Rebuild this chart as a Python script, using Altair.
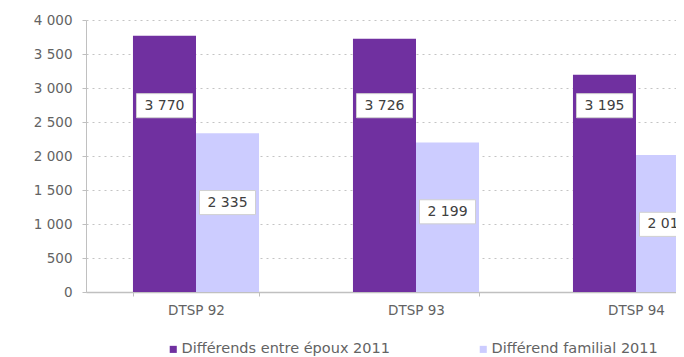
import altair as alt
import pandas as pd

categories = ["DTSP 92", "DTSP 93", "DTSP 94"]
series_names = ["Différends entre époux 2011", "Différend familial 2011"]
entre_epoux = [3770, 3726, 3195]
familial = [2335, 2199, 2015]
y_ticks = [0, 500, 1000, 1500, 2000, 2500, 3000, 3500, 4000]
colors = ["#7030A0", "#CCCCFF"]

rows = []
for c, a, b in zip(categories, entre_epoux, familial):
    rows.append({"cat": c, "serie": series_names[0], "value": a})
    rows.append({"cat": c, "serie": series_names[1], "value": b})
df = pd.DataFrame(rows)

FONT = "DejaVu Sans"
TXT = "#636363"

x = alt.X(
    "cat:N", sort=categories,
    scale=alt.Scale(range=[0, 660], paddingInner=0.427, paddingOuter=0.2135),
    axis=alt.Axis(title=None, labelAngle=0, tickBand="extent", tickSize=4,
                  tickColor="#bfbfbf", domainColor="#c0c0c0", domainWidth=1.5,
                  labelFont=FONT, labelFontSize=13.5, labelColor=TXT, labelPadding=7,
                  grid=False),
)
xo = alt.XOffset("serie:N", sort=series_names,
                 scale=alt.Scale(domain=series_names, paddingInner=0, paddingOuter=0))
yscale = alt.Scale(domain=[0, 4000], nice=False)
yaxis = alt.Axis(title=None, values=y_ticks, labelOverlap=False,
                 labelExpr="replace(format(datum.value, ','), ',', ' ')",
                 grid=True, gridDash=[2, 4], gridColor="#c4c4c4",
                 domainColor="#c0c0c0", tickColor="#bfbfbf", tickSize=4,
                 labelFont=FONT, labelFontSize=13.5, labelColor=TXT, labelPadding=10)
y = alt.Y("value:Q", scale=yscale, axis=yaxis)

base = alt.Chart(df)

bars = base.mark_bar(clip=True).encode(
    x=x, xOffset=xo, y=y,
    color=alt.Color("serie:N", sort=series_names,
                    scale=alt.Scale(domain=series_names, range=colors),
                    legend=alt.Legend(title=None, orient="none", direction="horizontal",
                                      legendX=80, legendY=322, symbolType="square",
                                      symbolSize=50, symbolStrokeWidth=0,
                                      labelFont=FONT, labelFontSize=14.5, labelColor=TXT,
                                      labelOffset=1, columnPadding=86, labelLimit=400)),
)

# label boxes: first series sits at a common level near the top, second series
# a fixed distance below its bar top (as in the reference)
label_base = base.transform_calculate(
    label_y=f"datum.serie == '{series_names[0]}' ? 2740 : datum.value - 1020",
    lbl="replace(format(datum.value, ','), ',', ' ')",
)

ylab = alt.Y("label_y:Q", scale=yscale, axis=yaxis)

boxes = label_base.mark_point(
    shape="M-1,-0.43L1,-0.43L1,0.43L-1,0.43Z", size=3136, filled=True,
    fill="white", stroke="#d0d0d0", strokeWidth=1, opacity=1, clip=True,
).encode(x=x, xOffset=xo, y=ylab)

texts = label_base.mark_text(font=FONT, fontSize=14, color="#404040", clip=True).encode(
    x=x, xOffset=xo, y=ylab, text="lbl:N",
)

chart = alt.layer(bars, boxes, texts).properties(
    width=590, height=272,
    autosize=alt.AutoSizeParams(type="none"),
    padding={"left": 78, "top": 12, "right": 0, "bottom": 65},
).configure_view(stroke=None)

chart.save("out.html", embed_options={"renderer": "svg", "actions": False})
